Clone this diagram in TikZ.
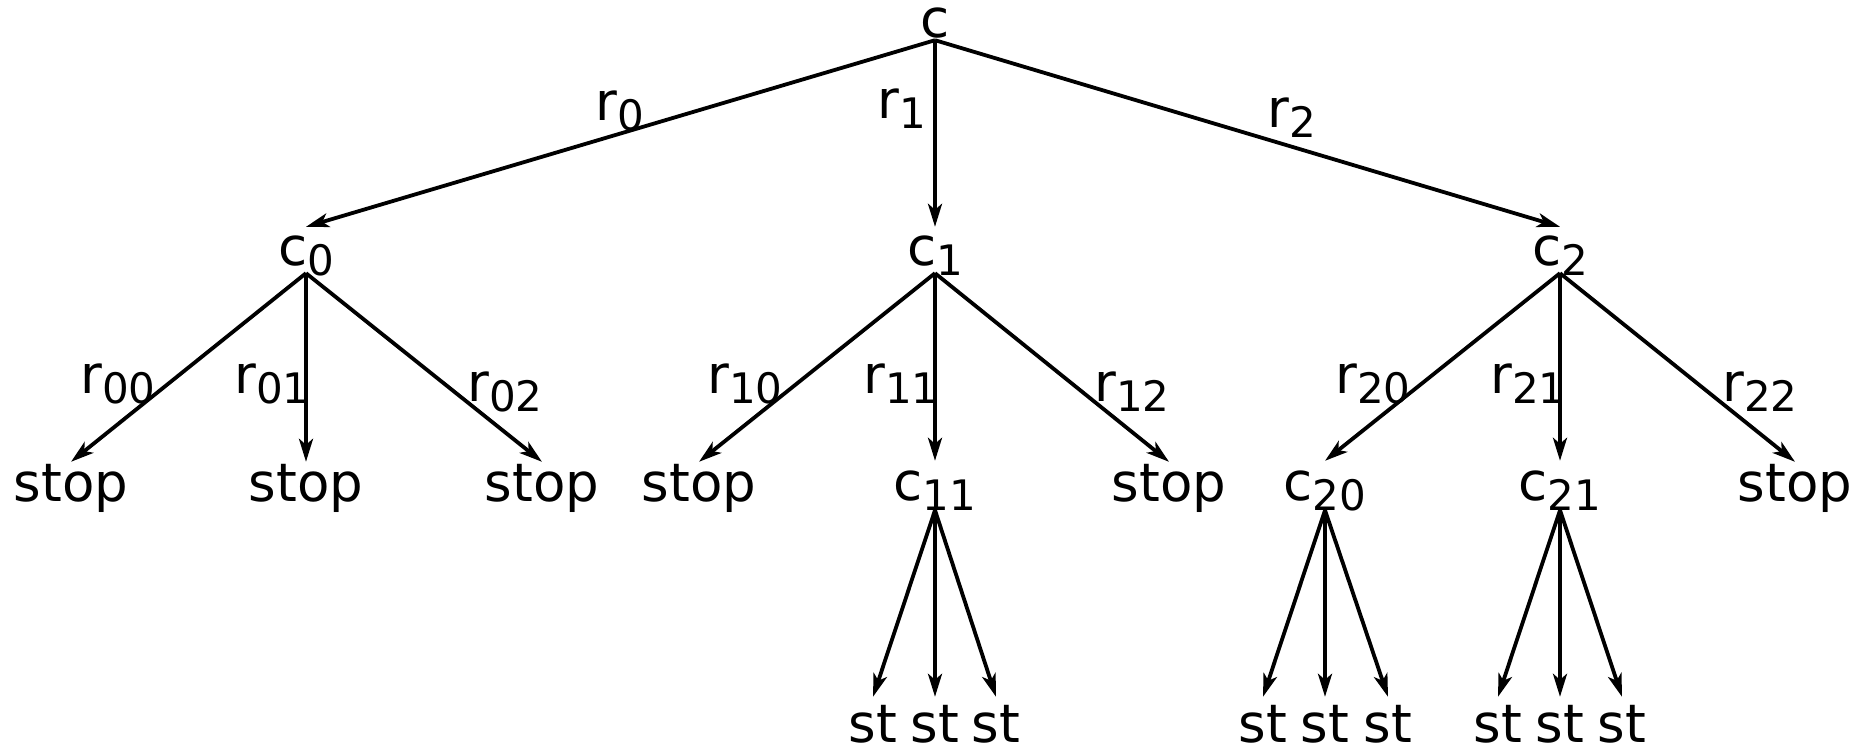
\documentclass[tikz,border=0pt]{standalone}
\usepackage{fontspec}
\setmainfont{DejaVu Sans}
\usetikzlibrary{arrows.meta}
% lowered, slightly smaller index text
\newcommand\sbs[1]{\raisebox{-10pt}{\fontsize{42}{50}\selectfont #1}}

\begin{document}
\begin{tikzpicture}[x=1pt,y=-1pt,
  every node/.style={inner sep=0pt, anchor=base, font=\fontsize{53}{63}\selectfont},
  rootnode/.style={text height=0pt, text depth=2pt},
  midnode/.style={text height=38pt, text depth=8pt},
  lownode/.style={text height=39pt, text depth=10pt},
  leafnode/.style={text height=45pt, text depth=0pt},
  edge/.style={line width=3.8pt, -{Stealth[length=23pt,width=14pt,inset=6pt]}},
]
\useasboundingbox (0,0) rectangle (1863,752);

% root
\node[rootnode] (c) at (935,38) {c};

% first level
\node[midnode] (c0) at (306,265) {c\sbs{0}};
\node[midnode] (c1) at (935,265) {c\sbs{1}};
\node[midnode] (c2) at (1560,265) {c\sbs{2}};

% second level
\node[lownode] (s00) at (71,501) {stop};
\node[lownode] (s01) at (306,501) {stop};
\node[lownode] (s02) at (542,501) {stop};
\node[lownode] (s10) at (699,501) {stop};
\node[lownode] (c11) at (935,500) {c\sbs{11}};
\node[lownode] (s12) at (1169,501) {stop};
\node[lownode] (c20) at (1325,500) {c\sbs{20}};
\node[lownode] (c21) at (1560,500) {c\sbs{21}};
\node[lownode] (s22) at (1795,501) {stop};

% third level
\node[leafnode] (t110) at (873,742) {st};
\node[leafnode] (t111) at (935,742) {st};
\node[leafnode] (t112) at (996,742) {st};
\node[leafnode] (t200) at (1263,742) {st};
\node[leafnode] (t201) at (1325,742) {st};
\node[leafnode] (t202) at (1388,742) {st};
\node[leafnode] (t210) at (1498,742) {st};
\node[leafnode] (t211) at (1560,742) {st};
\node[leafnode] (t212) at (1622,742) {st};

% edge labels
\node (r0) at (620,120) {r\sbs{0}};
\node (r1) at (902,118) {r\sbs{1}};
\node (r2) at (1292,127) {r\sbs{2}};
\node (r00) at (118,393) {r\sbs{00}};
\node (r01) at (272,393) {r\sbs{01}};
\node (r02) at (505,401) {r\sbs{02}};
\node (r10) at (745,393) {r\sbs{10}};
\node (r11) at (901,393) {r\sbs{11}};
\node (r12) at (1132,401) {r\sbs{12}};
\node (r20) at (1373,393) {r\sbs{20}};
\node (r21) at (1528,393) {r\sbs{21}};
\node (r22) at (1760,401) {r\sbs{22}};

% connectors
\foreach \p/\k in {c/c0, c/c1, c/c2,
                   c0/s00, c0/s01, c0/s02,
                   c1/s10, c1/c11, c1/s12,
                   c2/c20, c2/c21, c2/s22,
                   c11/t110, c11/t111, c11/t112,
                   c20/t200, c20/t201, c20/t202,
                   c21/t210, c21/t211, c21/t212}
  \draw[edge] (\p.south) -- (\k.north);
\end{tikzpicture}
\end{document}
